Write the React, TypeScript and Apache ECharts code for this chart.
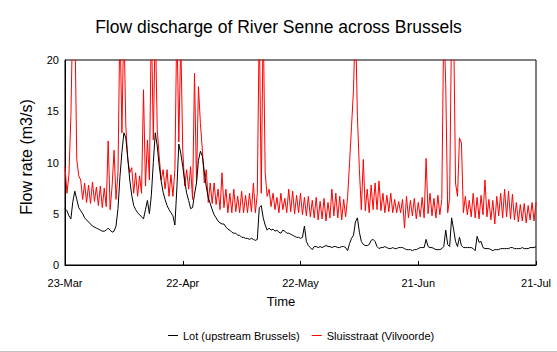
import React, { useEffect, useRef } from "react";
import * as echarts from "echarts";

// x-axis tick labels, one every 30 days starting on 23-Mar
const dateLabels = ["23-Mar", "22-Apr", "22-May", "21-Jun", "21-Jul"];
const tickIntervalDays = 30;
const totalDays = 120;
// one reading every half day
const sampleStepDays = 0.5;

const seriesNames = ["Lot (upstream Brussels)", "Sluisstraat (Vilvoorde)"];

// Lot (upstream Brussels), m3/s, half-day samples from 23-Mar
const lotFlow = [
  5.5, 5.3, 4.8, 4.5, 6.2, 7.2, 6.4, 5.6, 5.3, 5.0, 4.6, 4.4, 4.2, 4.0, 3.8, 3.7, 3.6, 3.5, 3.4, 3.3,
  3.3, 3.4, 3.6, 3.4, 3.2, 3.3, 3.8, 5.5, 8.6, 11.0, 12.9, 12.4, 10.4, 8.3, 6.8, 5.8, 5.4, 5.1, 4.9, 4.7,
  4.5, 5.4, 6.3, 5.0, 6.8, 10.0, 12.9, 11.6, 9.7, 8.2, 7.1, 6.4, 5.8, 5.4, 5.1, 4.8, 3.9, 7.5, 11.8, 10.9,
  9.6, 8.2, 7.0, 6.3, 5.5, 5.6, 6.9, 8.0, 10.2, 11.1, 10.6, 9.1, 7.6, 6.6, 6.0, 5.4, 4.9, 4.6, 4.3, 4.1,
  4.0, 4.0, 3.7, 3.5, 3.4, 3.2, 3.1, 3.1, 2.9, 2.9, 2.7, 2.7, 2.6, 2.6, 2.5, 2.6, 2.5, 2.4, 2.5, 5.6,
  5.8, 4.6, 3.9, 3.4, 3.6, 3.4, 3.5, 3.3, 3.4, 3.2, 3.1, 3.4, 3.3, 3.1, 3.1, 3.0, 2.9, 2.8, 2.7, 2.7,
  2.6, 2.7, 3.8, 2.3, 1.9, 1.7, 1.5, 1.8, 1.8, 1.7, 1.8, 1.7, 1.8, 1.9, 1.8, 1.8, 1.7, 1.8, 1.8, 1.7,
  1.7, 1.8, 1.8, 1.7, 1.4, 2.1, 2.6, 2.9, 4.2, 4.6, 3.2, 2.3, 2.0, 1.9, 1.9, 2.0, 2.4, 2.5, 2.3, 1.8,
  1.6, 1.7, 1.7, 1.8, 1.7, 1.6, 1.6, 1.7, 1.6, 1.6, 1.7, 1.7, 1.7, 1.6, 1.5, 1.5, 1.5, 1.4, 1.5, 1.5,
  1.6, 1.7, 1.7, 1.7, 2.5, 1.8, 1.7, 1.7, 1.6, 1.5, 1.5, 1.5, 1.6, 1.8, 3.4, 2.0, 1.8, 4.6, 3.5, 2.3,
  1.8, 2.7, 1.9, 1.7, 1.7, 1.7, 1.7, 1.7, 1.6, 1.4, 2.8, 2.2, 2.3, 1.7, 1.6, 1.6, 1.6, 1.5, 1.4, 1.5,
  1.5, 1.5, 1.6, 1.6, 1.6, 1.6, 1.6, 1.7, 1.7, 1.6, 1.6, 1.6, 1.6, 1.7, 1.6, 1.6, 1.6, 1.7, 1.7, 1.7,
  1.8,
];

// Sluisstraat (Vilvoorde), m3/s, half-day samples from 23-Mar (values above 20 run off the chart)
const sluisFlow = [
  9.6, 7.0, 8.8, 14.5, 25, 24, 10.3, 8.7, 8.3, 6.4, 8.0, 6.1, 7.8, 6.0, 8.1, 6.2, 7.6, 5.8, 7.7, 5.6,
  7.5, 5.7, 12.1, 5.4, 7.7, 11.2, 6.4, 9.0, 24, 12.9, 24, 13.5, 10.3, 9.0, 9.5, 7.0, 9.0, 6.7, 8.7, 7.0,
  17.1, 7.7, 12.2, 8.3, 24, 12.2, 24, 13.2, 10.6, 8.3, 9.3, 7.4, 9.3, 6.7, 8.8, 6.7, 9.3, 24, 12.0, 22,
  11.2, 7.7, 9.3, 7.4, 9.6, 6.4, 18.7, 8.0, 17.4, 13.8, 11.2, 8.0, 9.3, 6.1, 8.0, 6.0, 8.0, 5.9, 7.4, 5.4,
  9.0, 5.6, 7.4, 5.1, 7.0, 5.1, 7.4, 5.2, 6.7, 5.1, 7.2, 5.1, 6.8, 5.1, 7.0, 5.2, 8.0, 5.1, 7.0, 24,
  7.0, 24, 9.0, 6.7, 7.4, 5.7, 7.0, 5.4, 6.6, 5.1, 7.0, 5.4, 6.5, 5.1, 7.4, 5.2, 7.2, 5.0, 6.8, 5.1,
  7.0, 4.9, 6.6, 4.8, 6.7, 4.7, 6.3, 4.6, 6.6, 4.4, 6.2, 4.5, 6.5, 4.3, 6.1, 4.6, 7.4, 4.8, 7.0, 4.6,
  6.7, 4.4, 6.4, 4.7, 6.6, 10.0, 13.5, 17.1, 24, 14.5, 9.3, 5.4, 10.3, 5.3, 7.4, 5.1, 7.8, 5.4, 8.0, 5.4,
  8.2, 5.3, 7.0, 5.1, 6.8, 5.2, 7.0, 5.1, 6.4, 5.1, 6.2, 5.1, 6.4, 3.6, 6.7, 4.6, 6.3, 4.8, 6.5, 4.5,
  6.1, 4.7, 6.6, 4.6, 10.4, 5.0, 7.0, 4.8, 6.5, 4.6, 6.8, 4.9, 6.4, 24, 17.6, 5.1, 6.5, 24, 24, 8.0,
  6.7, 12.4, 11.9, 5.1, 6.7, 4.9, 6.3, 4.7, 7.0, 4.6, 6.6, 4.5, 6.8, 4.9, 8.3, 4.7, 6.4, 4.4, 6.3, 4.0,
  6.7, 4.8, 7.0, 4.6, 7.4, 4.7, 7.2, 4.5, 6.9, 4.4, 6.1, 4.2, 5.9, 4.3, 6.0, 4.1, 5.8, 4.4, 6.1, 4.3,
  6.1,
];

const FONT = "'Liberation Sans', Arial, Helvetica, sans-serif";

export default function App() {
  const ref = useRef<HTMLDivElement>(null);

  useEffect(() => {
    if (!ref.current) return;
    const chart = echarts.init(ref.current, null, { renderer: "svg" });
    const toPairs = (arr: number[]) => arr.map((v, i) => [i * sampleStepDays, v]);

    chart.setOption({
      animation: false,
      backgroundColor: "#ffffff",
      textStyle: { fontFamily: FONT, color: "#000" },
      title: {
        text: "Flow discharge of River Senne across Brussels",
        left: "center",
        top: 13,
        textStyle: { fontFamily: FONT, fontSize: 17.5, fontWeight: "normal", color: "#000" },
      },
      grid: {
        left: 65,
        right: 21,
        top: 60,
        bottom: 87,
        show: true,
        borderColor: "#000",
        borderWidth: 1,
        backgroundColor: "transparent",
      },
      legend: {
        data: seriesNames,
        left: 163,
        top: 325,
        icon: "rect",
        itemWidth: 10,
        itemHeight: 1,
        itemGap: 12,
        textStyle: { fontFamily: FONT, fontSize: 11, color: "#000" },
      },
      xAxis: {
        type: "value",
        min: 0,
        max: totalDays,
        interval: tickIntervalDays,
        axisLine: { show: true, lineStyle: { color: "#000", width: 1 } },
        axisTick: { show: true, inside: true, length: 4, lineStyle: { color: "#000" } },
        splitLine: { show: false },
        axisLabel: {
          margin: 12,
          fontSize: 11,
          fontFamily: FONT,
          color: "#000",
          formatter: (v: number) => dateLabels[Math.round(v / tickIntervalDays)] ?? "",
        },
      },
      yAxis: {
        type: "value",
        min: 0,
        max: 20,
        interval: 5,
        axisLine: { show: true, lineStyle: { color: "#000", width: 1 } },
        axisTick: { show: false },
        splitLine: { show: false },
        axisLabel: { margin: 6, fontSize: 11, fontFamily: FONT, color: "#000" },
      },
      graphic: [
        {
          type: "text",
          x: 281,
          y: 301,
          style: {
            text: "Time",
            fill: "#000",
            font: `13px ${FONT}`,
            align: "center",
            verticalAlign: "middle",
          },
        },
        {
          type: "text",
          x: 26,
          y: 157,
          rotation: Math.PI / 2,
          style: {
            text: "Flow rate (m3/s)",
            fill: "#000",
            font: `16px ${FONT}`,
            align: "center",
            verticalAlign: "middle",
          },
        },
        {
          type: "line",
          shape: { x1: 0, y1: 351.5, x2: 557, y2: 351.5 },
          style: { stroke: "#c0c0c0", lineWidth: 1 },
        },
      ],
      series: [
        {
          name: seriesNames[1],
          type: "line",
          data: toPairs(sluisFlow),
          showSymbol: false,
          symbol: "none",
          clip: true,
          color: "#ff0000",
          lineStyle: { color: "#ff0000", width: 1 },
          z: 2,
        },
        {
          name: seriesNames[0],
          type: "line",
          data: toPairs(lotFlow),
          showSymbol: false,
          symbol: "none",
          clip: true,
          color: "#000000",
          lineStyle: { color: "#000000", width: 1 },
          z: 3,
        },
      ],
    });

    return () => chart.dispose();
  }, []);

  return (
    <div
      ref={ref}
      style={{ position: "fixed", left: 0, top: 0, width: 557, height: 352, background: "#fff" }}
    />
  );
}
